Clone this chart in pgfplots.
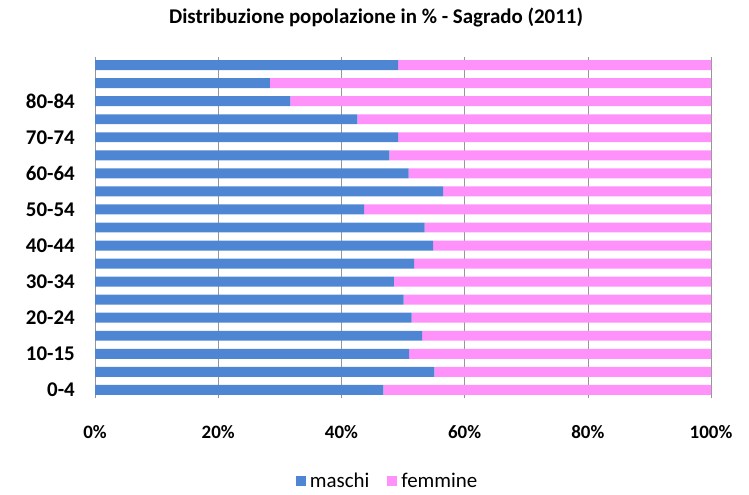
\documentclass[border=0pt]{standalone}
\usepackage{pgfplots}
\pgfplotsset{compat=1.18}
\usepackage{fontspec}
\setmainfont{Carlito}
\definecolor{maschi}{RGB}{78,134,212}
\definecolor{femmine}{RGB}{255,146,250}
\definecolor{griglia}{RGB}{150,150,150}

% male share per age class, bottom (0-4) to top
\pgfplotstableread{
idx m f
0  46.8 53.2
1  55.1 44.9
2  51.0 49.0
3  53.1 46.9
4  51.4 48.6
5  50.1 49.9
6  48.5 51.5
7  51.8 48.2
8  54.9 45.1
9  53.5 46.5
10 43.7 56.3
11 56.5 43.5
12 50.9 49.1
13 47.8 52.2
14 49.2 50.8
15 42.6 57.4
16 31.7 68.3
17 28.4 71.6
18 49.2 50.8
}\dati

\begin{document}
\begin{tikzpicture}
\path[use as bounding box] (0,0) rectangle (749bp,495bp);
\node[font=\bfseries\fontsize{21}{24}\selectfont] at (376bp,477bp)
  {Distribuzione popolazione in \% - Sagrado (2011)};
\begin{axis}[
    at={(95bp,97bp)}, anchor=south west,
    scale only axis,
    width=616bp, height=341bp,
    xbar stacked,
    bar width=0.55,
    xmin=0, xmax=100,
    ymin=-0.45, ymax=18.45,
    xtick={0,20,40,60,80,100},
    xticklabels={0\%,20\%,40\%,60\%,80\%,100\%},
    ytick={0,2,4,6,8,10,12,14,16},
    yticklabels={0-4,10-15,20-24,30-34,40-44,50-54,60-64,70-74,80-84},
    major tick length=0,
    axis lines*=left,
    axis line style={griglia},
    x axis line style={draw=none},
    xmajorgrids,
    grid style={griglia, line width=0.6pt},
    /pgf/number format/assume math mode=true,
    xticklabel style={font=\bfseries\fontsize{19}{22}\selectfont, yshift=-24bp},
    yticklabel style={font=\bfseries\fontsize{21}{24}\selectfont, inner sep=0pt, xshift=-20bp},
    legend columns=2,
    legend style={at={(0.475,-0.243)}, anchor=center, draw=none, fill=none,
      inner sep=0pt,
      font=\fontsize{21}{23}\selectfont,
      /tikz/every odd column/.append style={column sep=2bp},
      /tikz/every even column/.append style={column sep=16bp}},
    legend image code/.code={\fill[#1] (0bp,-5bp) rectangle (10bp,5bp);},
]
\addplot[fill=maschi, draw=none] table[x=m, y=idx] {\dati};
\addlegendentry{maschi}
\addplot[fill=femmine, draw=none] table[x=f, y=idx] {\dati};
\addlegendentry{femmine}
\end{axis}
\end{tikzpicture}
\end{document}
